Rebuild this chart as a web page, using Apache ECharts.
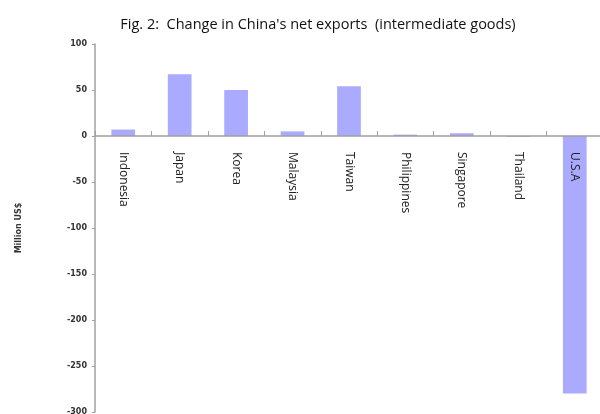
<!DOCTYPE html>
<html>
<head>
<meta charset="utf-8">
<script src="https://cdn.jsdelivr.net/npm/echarts@6/dist/echarts.min.js"></script>
<style>
  html, body { margin: 0; padding: 0; background: #fff; }
  #chart { width: 600px; height: 414px; }
</style>
</head>
<body>
<div id="chart"></div>
<script>
// 国家 / 净出口变化 (Million US$)
const countries = ["Indonesia", "Japan", "Korea", "Malaysia", "Taiwan", "Philippines", "Singapore", "Thailand", "U.S.A"];
const netExports = [7, 67, 50, 5, 54, 1.5, 3, -1, -280];
const yTicks = { min: -300, max: 100, interval: 50 };

const gridTop = 44, gridHeight = 368;
// x轴放在 0 的位置 (v6 里 onZero 不带标签)
const zeroOffset = -gridHeight * (0 - yTicks.min) / (yTicks.max - yTicks.min);

let myChart = echarts.init(document.getElementById("chart"));
let option = {
  animation: false,
  title: {
    text: "Fig. 2:  Change in China's net exports  (intermediate goods)",
    left: 313,
    top: 12,
    textAlign: "center",
    textStyle: { fontFamily: "Open Sans", fontSize: 14.5, fontWeight: "normal", color: "#111" }
  },
  grid: { left: 95, top: gridTop, width: 508, height: gridHeight, outerBoundsMode: "none", containLabel: false },
  xAxis: {
    type: "category",
    data: countries,
    position: "bottom",
    offset: zeroOffset,
    z: 5,
    axisLine: { onZero: false, lineStyle: { color: "#a0a0a0", width: 1.5 } },
    axisTick: { show: true, inside: true, length: 5, lineStyle: { color: "#a0a0a0" } },
    axisLabel: {
      rotate: -90,
      margin: 16,
      fontFamily: "Open Sans",
      fontSize: 12,
      color: "#222"
    },
    splitLine: { show: false }
  },
  yAxis: {
    type: "value",
    min: yTicks.min,
    max: yTicks.max,
    interval: yTicks.interval,
    name: "Million US$",
    nameLocation: "middle",
    nameGap: 72,
    nameRotate: 90,
    nameTextStyle: { fontFamily: "DejaVu Sans", fontSize: 8, fontWeight: "bold", color: "#333" },
    axisLine: { show: true, lineStyle: { color: "#a0a0a0", width: 1.5 } },
    axisTick: { show: true, length: 3, lineStyle: { color: "#a0a0a0" } },
    axisLabel: {
      margin: 8,
      fontFamily: "DejaVu Sans",
      fontSize: 8,
      fontWeight: "bold",
      color: "#333"
    },
    splitLine: { show: false }
  },
  series: [
    {
      type: "bar",
      data: netExports,
      barWidth: "42%",
      itemStyle: { color: "#aaaaff" }
    }
  ]
};
myChart.setOption(option);
</script>
</body>
</html>
